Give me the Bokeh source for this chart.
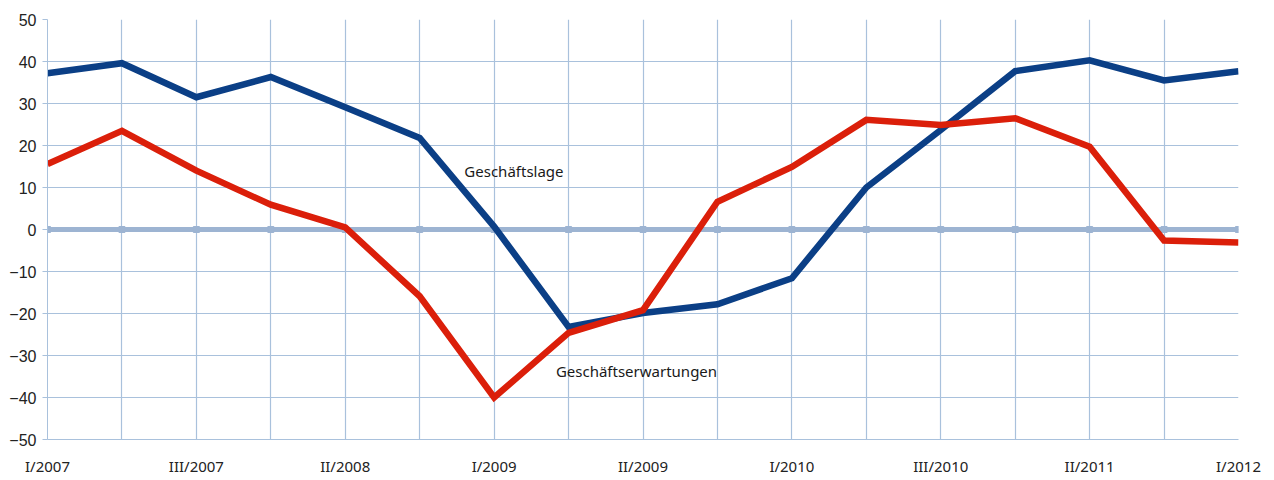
from bokeh.plotting import figure
from bokeh.embed import file_html
from bokeh.resources import INLINE
from bokeh.models import FixedTicker, ColumnDataSource, Label

quarters = ["I/2007", "", "III/2007", "", "II/2008", "", "I/2009", "", "II/2009", "",
            "I/2010", "", "III/2010", "", "II/2011", "", "I/2012"]
geschaeftslage = [37.2, 39.6, 31.5, 36.3, 29.1, 21.8, 0.7, -23.2, -19.9, -17.8, -11.6,
                  10.0, 23.7, 37.7, 40.3, 35.5, 37.7]
geschaeftserwartungen = [15.6, 23.5, 14.0, 5.9, 0.5, -15.9, -40.0, -24.6, -19.2, 6.6, 14.9,
                         26.1, 24.9, 26.5, 19.7, -2.6, -3.1]
zero_line = [0] * len(quarters)
y_ticks = [-50, -40, -30, -20, -10, 0, 10, 20, 30, 40, 50]

xs = list(range(len(quarters)))
src = ColumnDataSource(dict(x=xs, lage=geschaeftslage, erw=geschaeftserwartungen, zero=zero_line))

grid_col = "#a9c1dc"
p = figure(width=1270, height=478, output_backend="svg", toolbar_location=None,
           x_range=(0, len(quarters) - 1), y_range=(-50, 50),
           min_border_left=47, min_border_right=32, min_border_top=19, min_border_bottom=36)
p.outline_line_color = None
p.background_fill_color = "white"

p.xaxis.ticker = FixedTicker(ticks=xs)
p.xaxis.major_label_overrides = {i: q for i, q in enumerate(quarters)}
p.xaxis.major_label_text_font = "Noto Sans"
p.xaxis.major_label_text_font_size = "15px"
p.xaxis.major_label_text_color = "#222222"
p.xaxis.major_tick_line_color = None
p.xaxis.major_tick_out = 0
p.xaxis.major_tick_in = 0
p.xaxis.minor_tick_line_color = None
p.xaxis.axis_line_color = grid_col
p.xaxis.major_label_standoff = 16

p.yaxis.ticker = FixedTicker(ticks=y_ticks)
p.yaxis.major_label_text_font = "Liberation Sans"
p.yaxis.major_label_text_font_size = "16px"
p.yaxis.major_label_text_color = "#222222"
p.yaxis.major_tick_line_color = grid_col
p.yaxis.major_tick_out = 5
p.yaxis.major_tick_in = 0
p.yaxis.minor_tick_line_color = None
p.yaxis.axis_line_color = grid_col
p.yaxis.major_label_standoff = 6

p.xgrid.ticker = FixedTicker(ticks=xs)
p.xgrid.grid_line_color = grid_col
p.xgrid.grid_line_width = 1.2
p.ygrid.ticker = FixedTicker(ticks=y_ticks)
p.ygrid.grid_line_color = grid_col
p.ygrid.grid_line_width = 1.2

zc = "#9db4d2"
p.line("x", "zero", source=src, line_color=zc, line_width=5)
p.scatter("x", "zero", source=src, size=6, marker="square", color=zc)

p.line("x", "lage", source=src, line_color="#0b3f86", line_width=6.5, line_join="miter")
p.line("x", "erw", source=src, line_color="#db1f0a", line_width=6.5, line_join="miter")

p.add_layout(Label(x=5.6, y=14.0, text="Geschäftslage", text_font="Noto Sans",
                   text_font_size="15px", text_color="#1a1a1a", text_baseline="middle"))
p.add_layout(Label(x=6.83, y=-33.6, text="Geschäftserwartungen", text_font="Noto Sans",
                   text_font_size="15px", text_color="#1a1a1a", text_baseline="middle"))

open("out.html", "w").write(file_html(p, INLINE))
